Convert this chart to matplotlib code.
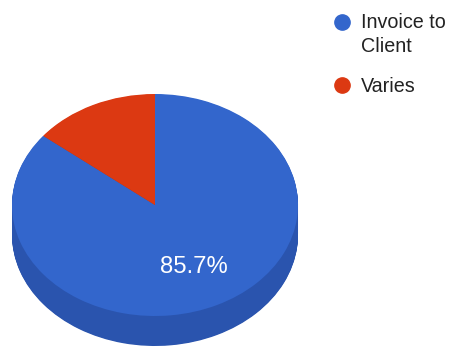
import numpy as np
import matplotlib
matplotlib.use("Agg")
import matplotlib.pyplot as plt

# Share of projects by billing method
categories = ["Invoice to\nClient", "Varies"]
values = [6, 1]

top_colors = ["#3366CC", "#DC3912"]
side_colors = ["#2A54AE", "#B52E0F"]

W, H = 457, 347
fig = plt.figure(figsize=(W / 100, H / 100), dpi=100)
ax = fig.add_axes([0, 0, 1, 1])

# pixel geometry of the tilted disc (top face centre, semi-axes, thickness)
cx, cy = 155, 205
rx, ry = 143, 111
thick = 30
depth = thick / ry

# side wall: stacked copies of the pie, darker
for k in np.linspace(depth, 0, 45)[:-1]:
    ax.pie(values, colors=side_colors, center=(0, -k), radius=1,
           startangle=90, counterclock=False,
           wedgeprops=dict(linewidth=0, antialiased=True))

# top face with the percentage label
def pct_label(p):
    return f"{p:.1f}%" if p > 20 else ""

wedges, texts, autotexts = ax.pie(
    values, colors=top_colors, radius=1, startangle=90, counterclock=False,
    autopct=pct_label, pctdistance=0.62,
    wedgeprops=dict(linewidth=0),
    textprops=dict(color="white", fontsize=17.2, family="Liberation Sans"))

# map the unit circle onto an ellipse in pixel space
ax.set_aspect("auto")
ax.set_xlim(-cx / rx, (W - cx) / rx)
ax.set_ylim((cy - H) / ry, cy / ry)
ax.axis("off")

# legend
leg_y = [21.5, 85]
for cat, col, yy in zip(categories, top_colors, leg_y):
    fig.add_artist(plt.Line2D([342 / W], [1 - yy / H], marker="o",
                              markersize=11, color=col, linestyle="none",
                              transform=fig.transFigure))
    fig.text(361 / W, 1 - (yy - 8) / H, cat, fontsize=14.2,
             family="Liberation Sans", color="#222222", va="top",
             ha="left", linespacing=1.3)

fig.savefig("out.png", dpi=100)
